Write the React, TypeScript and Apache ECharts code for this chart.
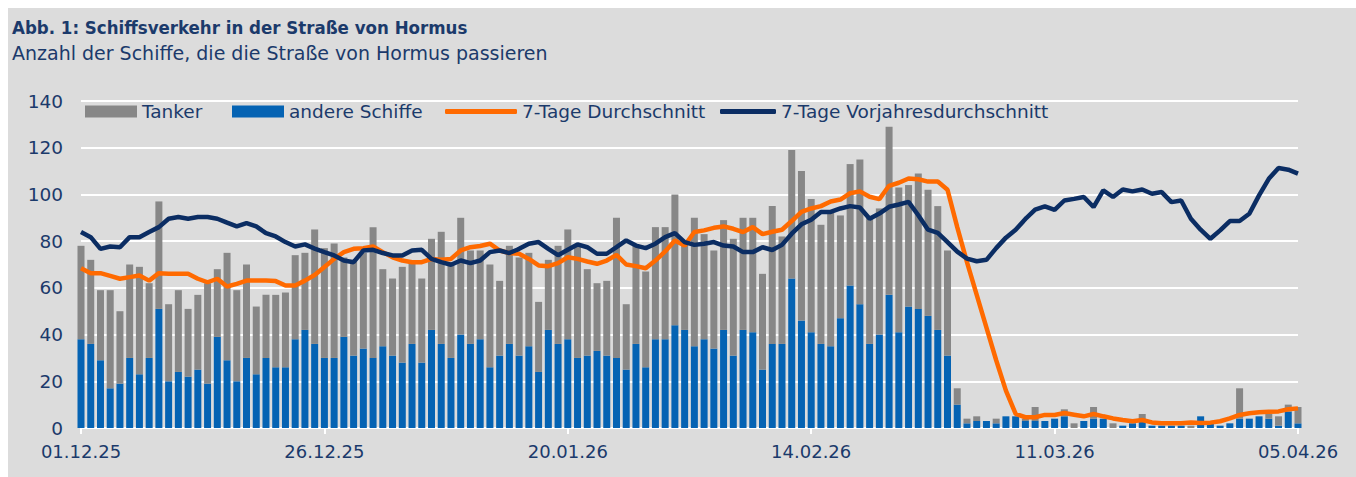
import React, { useEffect, useRef } from "react";
import * as echarts from "echarts";

// Categories: daily dates 01.12.25 .. 05.04.26
const dates: string[] = [];
for (let i = 0; i < 126; i++) {
  const d = new Date(Date.UTC(2025, 11, 1 + i));
  const dd = String(d.getUTCDate()).padStart(2, "0");
  const mm = String(d.getUTCMonth() + 1).padStart(2, "0");
  const yy = String(d.getUTCFullYear()).slice(2);
  dates.push(`${dd}.${mm}.${yy}`);
}

const andereSchiffe = [
  38, 36, 29, 17, 19, 30, 23, 30, 51, 20,
  24, 22, 25, 19, 39, 29, 20, 30, 23, 30,
  26, 26, 38, 42, 36, 30, 30, 39, 31, 34,
  30, 35, 31, 28, 36, 28, 42, 36, 30, 40,
  36, 38, 26, 31, 36, 31, 35, 24, 42, 36,
  38, 30, 31, 33, 31, 30, 25, 36, 26, 38,
  38, 44, 42, 35, 38, 34, 42, 31, 42, 41,
  25, 36, 36, 64, 46, 41, 36, 35, 47, 61,
  53, 36, 40, 57, 41, 52, 51, 48, 42, 31,
  10, 2, 3, 3, 2, 5, 5, 3, 3, 3,
  4, 5, 0, 3, 4, 4, 0, 1, 2, 3,
  1, 1, 1, 1, 0, 5, 2, 1, 2, 4,
  4, 5, 4, 1, 7, 2,
];

const tanker = [
  40, 36, 30, 42, 31, 40, 46, 32, 46, 33,
  35, 29, 32, 43, 29, 46, 39, 40, 29, 27,
  31, 32, 36, 33, 49, 47, 49, 34, 41, 41,
  56, 33, 33, 41, 35, 36, 39, 48, 41, 50,
  40, 38, 44, 32, 42, 42, 40, 30, 30, 42,
  47, 48, 37, 29, 32, 60, 28, 42, 41, 48,
  48, 56, 37, 55, 45, 42, 47, 50, 48, 49,
  41, 59, 46, 55, 64, 57, 51, 57, 44, 52,
  62, 54, 54, 72, 62, 52, 58, 54, 53, 45,
  7, 2, 2, 0, 2, 0, 0, 1, 6, 0,
  0, 3, 2, 0, 5, 0, 2, 0, 0, 3,
  0, 0, 0, 0, 1, 0, 0, 0, 0, 13,
  0, 0, 2, 4, 3, 7,
];

const durchschnitt7 = [
  68.4, 66.3, 66.3, 65.1, 63.9, 64.6, 65.3, 63.1, 66.3, 66,
  66, 66, 63.9, 62.4, 63.9, 60.6, 61.7, 63.1, 63.1, 63.1,
  62.9, 61, 61, 63.1, 65.5, 68.9, 72.4, 75.3, 76.7, 77,
  77.7, 75.3, 73.1, 71.7, 71, 71, 72.4, 72, 72.4, 76,
  77.4, 77.9, 78.9, 76, 74.9, 74.6, 72.4, 69.6, 69.3, 70.6,
  73.1, 72.4, 71.3, 70.3, 71.7, 74.1, 70, 69.3, 68.4, 71.7,
  75.6, 80.3, 78.1, 83.9, 84.6, 85.7, 86.3, 85.3, 83.9, 86,
  83, 84, 84.9, 88.6, 92.5, 94, 95, 97, 97.8, 100.5,
  101.3, 99, 98, 103.7, 105, 106.8, 106.5, 105.5, 105.5, 102,
  86, 71, 57, 43, 29, 16, 6, 4.6, 4.6, 5.6,
  5.6, 6.4, 5.7, 5, 6, 5, 4.1, 3.4, 2.9, 3.4,
  2.4, 2, 2, 2, 2.4, 2.1, 2.3, 2.9, 4.1, 5.6,
  6.3, 6.7, 7, 7.1, 8, 8.4,
];

const vorjahr7 = [
  83.9, 81.7, 76.7, 77.7, 77.4, 81.7, 81.7, 83.9, 86, 89.6,
  90.3, 89.6, 90.3, 90.3, 89.6, 87.9, 86.3, 87.7, 86.3, 83.4,
  82, 79.6, 77.7, 78.6, 76.8, 75.3, 73.9, 71.7, 71, 76,
  76.3, 74.9, 73.9, 73.9, 76, 76.3, 72.4, 71, 69.9, 71.7,
  70.6, 71.7, 75.3, 76, 74.9, 76.7, 78.9, 79.6, 76.7, 74,
  76.3, 78.6, 77.4, 74.6, 74.6, 77.4, 80.3, 78.1, 77, 78.9,
  81.7, 83.4, 79.6, 78.4, 78.9, 79.6, 78.1, 77.7, 75.3, 75.3,
  77.4, 76.2, 78.4, 83.2, 87.2, 89.2, 92.5, 92.5, 94, 95,
  94.4, 89.6, 91.8, 94.7, 95.7, 96.8, 91.1, 84.9, 83.5, 79.6,
  75.5, 72.5, 71.4, 72, 77, 81.5, 84.9, 89.5, 93.5, 94.9,
  93.4, 97.4, 98.1, 98.9, 94.6, 101.7, 98.9, 102.1, 101.3, 102.1,
  100.3, 101, 96.7, 97.4, 89.6, 84.9, 81, 84.6, 88.6, 88.6,
  91.7, 99.6, 106.7, 111.3, 110.6, 108.9,
];

const NAVY_TEXT = "#1b3a6b";
const GRAY = "#878787";
const BLUE = "#0563b3";
const ORANGE = "#ff6a00";
const NAVY = "#0b2d63";
const FONT = "DejaVu Sans";

export default function App() {
  const ref = useRef<HTMLDivElement>(null);

  useEffect(() => {
    if (!ref.current) return;
    const chart = echarts.init(ref.current, undefined, { renderer: "svg" });
    const legendBase = {
      top: 89,
      itemHeight: 12,
      textStyle: { color: NAVY_TEXT, fontSize: 18.5, fontFamily: FONT },
      selectedMode: false as const,
    };
    chart.setOption({
      animation: false,
      backgroundColor: "#dcdcdc",
      title: {
        text: "Abb. 1: Schiffsverkehr in der Straße von Hormus",
        subtext: "Anzahl der Schiffe, die die Straße von Hormus passieren",
        left: 4,
        top: 10,
        padding: 0,
        itemGap: 6,
        textStyle: {
          color: NAVY_TEXT,
          fontSize: 18.5,
          fontWeight: "bold",
          fontFamily: "DejaVu Sans Condensed",
        },
        subtextStyle: {
          color: NAVY_TEXT,
          fontSize: 19,
          fontFamily: FONT,
        },
      },
      legend: [
        { ...legendBase, left: 72, itemWidth: 52, data: [{ name: "Tanker", icon: "rect" }] },
        { ...legendBase, left: 219, itemWidth: 52, data: [{ name: "andere Schiffe", icon: "rect" }] },
        { ...legendBase, left: 432, itemWidth: 72, itemHeight: 5, data: [{ name: "7-Tage Durchschnitt", icon: "roundRect" }] },
        { ...legendBase, left: 707, itemWidth: 56, itemHeight: 5, data: [{ name: "7-Tage Vorjahresdurchschnitt", icon: "roundRect" }] },
      ],
      grid: { left: 73, right: 58, top: 93, bottom: 49, containLabel: false },
      xAxis: {
        type: "category",
        data: dates,
        boundaryGap: false,
        axisLine: { show: true, lineStyle: { color: "#ffffff", width: 2 } },
        axisTick: { show: true, interval: 24, length: 6, lineStyle: { color: "#ffffff", width: 2 } },
        axisLabel: {
          interval: 24,
          margin: 14,
          color: NAVY_TEXT,
          fontSize: 18,
          fontFamily: FONT,
        },
        splitLine: { show: false },
      },
      yAxis: {
        type: "value",
        min: 0,
        max: 140,
        interval: 20,
        axisLine: { show: false },
        axisTick: { show: false },
        axisLabel: { margin: 18, color: NAVY_TEXT, fontSize: 18.5, fontFamily: FONT },
        splitLine: { lineStyle: { color: "#ffffff", width: 2 } },
      },
      series: [
        {
          name: "andere Schiffe",
          type: "bar",
          stack: "schiffe",
          data: andereSchiffe,
          barWidth: 7,
          itemStyle: { color: BLUE },
          clip: true,
        },
        {
          name: "Tanker",
          type: "bar",
          stack: "schiffe",
          data: tanker,
          barWidth: 7,
          itemStyle: { color: GRAY },
          clip: true,
        },
        {
          name: "7-Tage Durchschnitt",
          type: "line",
          data: durchschnitt7,
          showSymbol: false,
          symbol: "none",
          lineStyle: { color: ORANGE, width: 4.5 },
          itemStyle: { color: ORANGE },
          z: 3,
        },
        {
          name: "7-Tage Vorjahresdurchschnitt",
          type: "line",
          data: vorjahr7,
          showSymbol: false,
          symbol: "none",
          lineStyle: { color: NAVY, width: 4.5 },
          itemStyle: { color: NAVY },
          z: 4,
        },
      ],
    });
    return () => chart.dispose();
  }, []);

  return (
    <div
      ref={ref}
      style={{ position: "fixed", left: 8, top: 8, width: 1348, height: 469 }}
    />
  );
}
